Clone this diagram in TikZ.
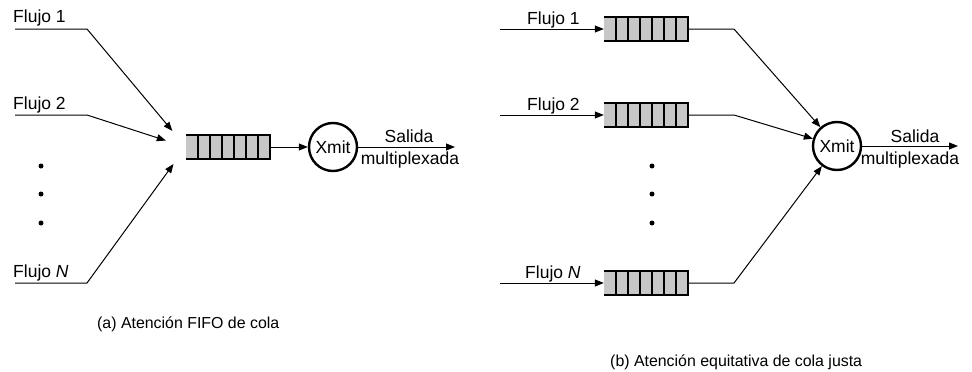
\documentclass[tikz,border=0pt]{standalone}
\usepackage{fontspec}
\setmainfont{Liberation Sans}
\usetikzlibrary{arrows.meta,calc}
\tikzset{
  flow/.style={line width=1pt},
  arr/.style={line width=1pt,-{Triangle[length=9pt,width=7pt]}},
  txt/.style={inner sep=0pt, font=\fontsize{17.5}{20}\selectfont},
  lbl/.style={txt, anchor=base west},
  captxt/.style={inner sep=0pt, anchor=base west, font=\fontsize{15.9}{19}\selectfont},
  qbody/.style={rectangle, minimum width=84pt, minimum height=24pt, inner sep=0pt, fill=black!22},
  qedge/.style={line width=2.4pt},
  qdiv/.style={line width=1.6pt},
  xmit/.style={circle, draw, line width=2.4pt, minimum size=48pt, inner sep=0pt, font=\fontsize{17.5}{20}\selectfont},
  dotn/.style={circle, fill, inner sep=0pt, minimum size=5pt},
}
\newcommand\colaq[3]{%
  \node[qbody] (#1) at (#2,#3) {};
  \draw[qdiv] foreach \k in {1,...,6} {($(#1.north east)+({-12*\k},0)$) -- ($(#1.south east)+({-12*\k},0)$)};
  \draw[qedge] (#1.north west) -- (#1.north east) -- (#1.south east) -- (#1.south west);
}
\begin{document}
\begin{tikzpicture}[x=1pt,y=-1pt]
\useasboundingbox (0,0) rectangle (972,372);
% ---------- (a) ----------
\colaq{qa}{228}{147}
\node[xmit] (xa) at (333,147) {Xmit};
\coordinate (a1s) at (15,29);  \coordinate (a1e) at (87,29);
\coordinate (a2s) at (15,115); \coordinate (a2e) at (87,115);
\coordinate (aNs) at (15,283); \coordinate (aNe) at (87,283);
\node[lbl] (la1) at (13,23) {Flujo 1};
\node[lbl] (la2) at (13,109) {Flujo 2};
\node[lbl] (laN) at (13,277) {Flujo \textit{N}};
\draw[arr, shorten >=21pt] (a1s) -- (a1e) -- (qa.west);
\draw[arr, shorten >=21pt] (a2s) -- (a2e) -- (qa.west);
\draw[arr, shorten >=21pt] (aNs) -- (aNe) -- (qa.west);
\node[dotn] (da1) at (41,166) {};
\node[dotn] (da2) at (41,194) {};
\node[dotn] (da3) at (41,223) {};
\draw[arr] (qa.east) -- (xa.west);
\coordinate (oa) at (455,147);
\draw[arr] (xa.east) -- (oa);
\node[txt, anchor=base] (sa) at (409,142) {Salida};
\node[txt, anchor=base] (ma) at (410,164.5) {multiplexada};
\node[captxt] (capa) at (97,328) {(a) Atención FIFO de cola};
% ---------- (b) ----------
\colaq{qb1}{646}{29}
\colaq{qb2}{646}{115}
\colaq{qbN}{646}{283}
\node[xmit] (xb) at (837,146) {Xmit};
\coordinate (b1s) at (500,29);  \coordinate (b1e) at (734,29);
\coordinate (b2s) at (500,115); \coordinate (b2e) at (734,115);
\coordinate (bNs) at (500,283); \coordinate (bNe) at (734,283);
\node[lbl] (lb1) at (527,24) {Flujo 1};
\node[lbl] (lb2) at (527,110) {Flujo 2};
\node[lbl] (lbN) at (525,278) {Flujo \textit{N}};
\draw[arr] (b1s) -- (qb1.west);
\draw[arr] (b2s) -- (qb2.west);
\draw[arr] (bNs) -- (qbN.west);
\draw[arr] (qb1.east) -- (b1e) -- (xb);
\draw[arr] (qb2.east) -- (b2e) -- (xb);
\draw[arr] (qbN.east) -- (bNe) -- (xb);
\node[dotn] (db1) at (652,166) {};
\node[dotn] (db2) at (652,194) {};
\node[dotn] (db3) at (652,223) {};
\coordinate (ob) at (958,146);
\draw[arr] (xb.east) -- (ob);
\node[txt, anchor=base] (sb) at (915,142) {Salida};
\node[txt, anchor=base] (mb) at (910,164.5) {multiplexada};
\node[captxt] (capb) at (610,366) {(b) Atención equitativa de cola justa};
\end{tikzpicture}
\end{document}
